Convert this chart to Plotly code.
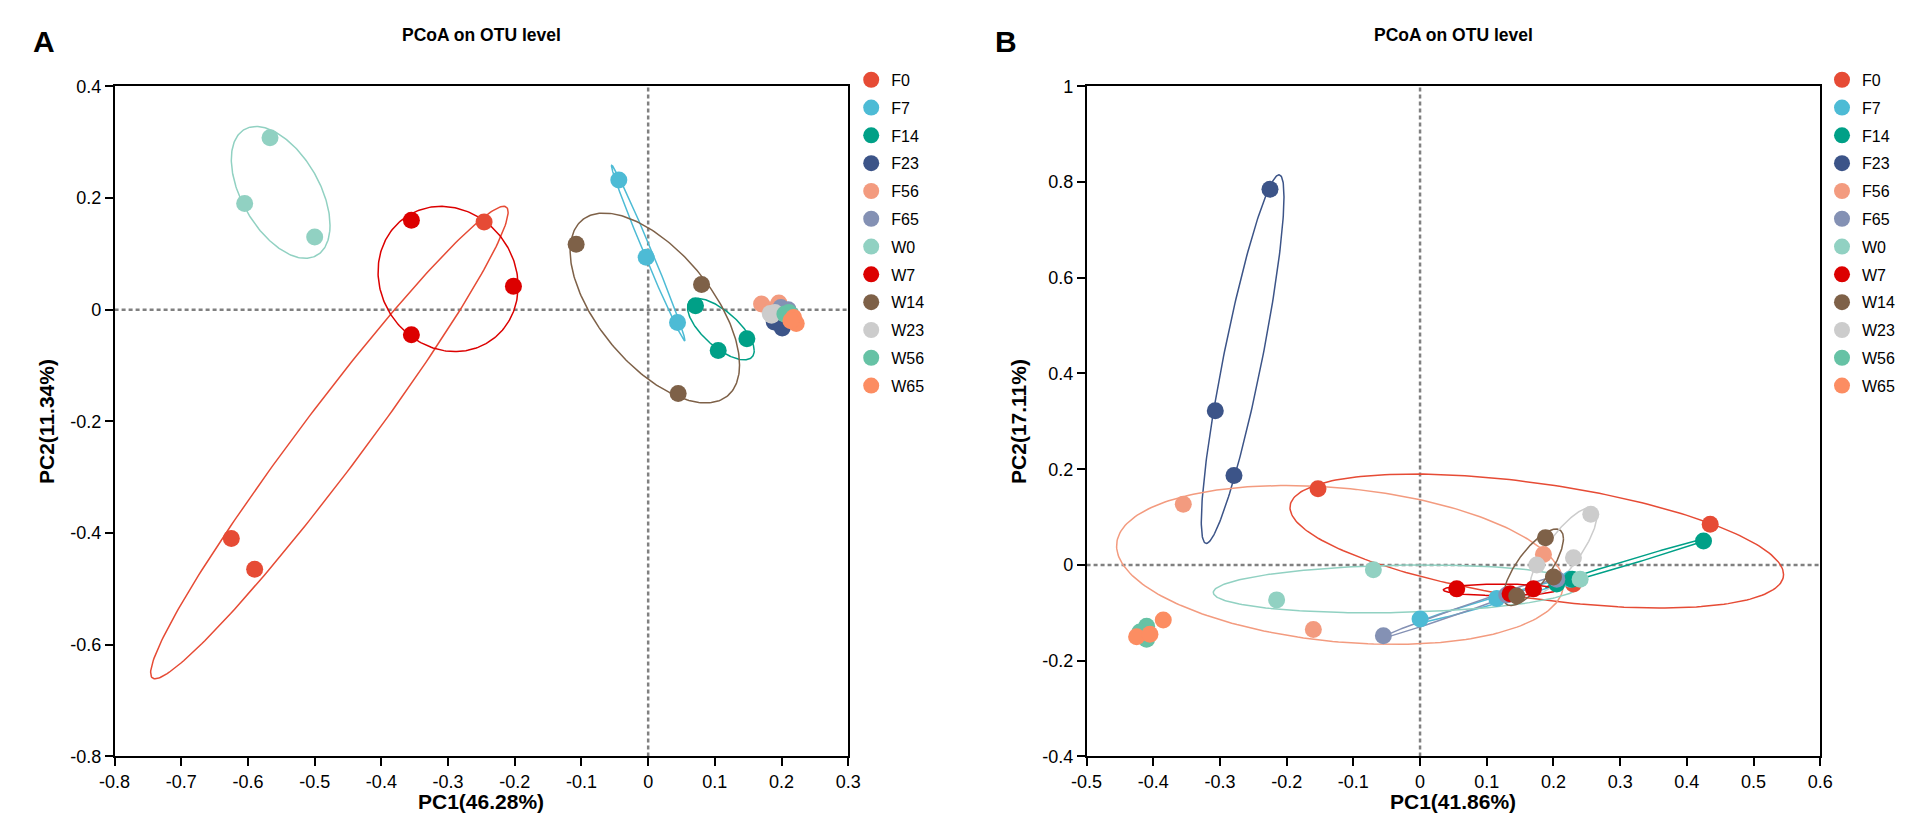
import numpy as np
import plotly.graph_objects as go

# groups and colours
groups = ["F0", "F7", "F14", "F23", "F56", "F65", "W0", "W7", "W14", "W23", "W56", "W65"]
colors = ["#e64b35", "#4dbbd5", "#00a087", "#3c5488", "#f39b7f", "#8491b4",
          "#91d1c2", "#dc0000", "#7e6148", "#cccccc", "#66c2a5", "#fc8d62"]

# panel A: PCoA coordinates (3 samples per group)
a_pc1 = {
    "F0": [-0.246, -0.625, -0.59], "F7": [-0.044, -0.003, 0.044], "F14": [0.071, 0.105, 0.148],
    "F23": [0.189, 0.201, 0.195], "F56": [0.170, 0.196, 0.185], "F65": [0.199, 0.205, 0.21],
    "W0": [-0.567, -0.605, -0.50], "W7": [-0.355, -0.202, -0.355], "W14": [-0.108, 0.08, 0.045],
    "W23": [0.183, 0.19, 0.185], "W56": [0.211, 0.205, 0.215], "W65": [0.218, 0.222, 0.214],
}
a_pc2 = {
    "F0": [0.157, -0.41, -0.465], "F7": [0.232, 0.094, -0.023], "F14": [0.007, -0.073, -0.052],
    "F23": [-0.022, -0.033, -0.015], "F56": [0.010, 0.012, 0.0], "F65": [0.004, -0.002, 0.0],
    "W0": [0.308, 0.19, 0.13], "W7": [0.16, 0.042, -0.045], "W14": [0.117, 0.045, -0.15],
    "W23": [-0.007, -0.005, -0.01], "W56": [-0.005, -0.008, -0.01], "W65": [-0.014, -0.025, -0.02],
}
# panel A confidence ellipses: centre, half extent in x / y, tilt (correlation)
a_ell = {
    "F0": (-0.478, -0.238, 0.268, 0.423, 0.975),
    "F7": (0.0, 0.1015, 0.055, 0.157, -0.993),
    "F14": (0.109, -0.035, 0.05, 0.055, -0.7),
    "W0": (-0.551, 0.21, 0.074, 0.118, -0.5),
    "W7": (-0.30, 0.055, 0.105, 0.13, -0.1),
    "W14": (0.01, 0.003, 0.127, 0.17, -0.6),
}

# panel B
b_pc1 = {
    "F0": [-0.153, 0.435, 0.23], "F7": [0.0, 0.115, 0.225], "F14": [0.425, 0.228, 0.205],
    "F23": [-0.225, -0.307, -0.279], "F56": [-0.355, -0.16, 0.185], "F65": [-0.055, 0.13, 0.205],
    "W0": [-0.07, -0.215, 0.24], "W7": [0.055, 0.17, 0.135], "W14": [0.188, 0.145, 0.2],
    "W23": [0.256, 0.23, 0.175], "W56": [-0.41, -0.41, -0.42], "W65": [-0.425, -0.405, -0.385],
}
b_pc2 = {
    "F0": [0.159, 0.085, -0.04], "F7": [-0.113, -0.07, -0.03], "F14": [0.05, -0.03, -0.04],
    "F23": [0.785, 0.322, 0.187], "F56": [0.127, -0.135, 0.022], "F65": [-0.148, -0.063, -0.03],
    "W0": [-0.01, -0.073, -0.03], "W7": [-0.05, -0.05, -0.06], "W14": [0.057, -0.065, -0.025],
    "W23": [0.106, 0.015, 0.0], "W56": [-0.155, -0.128, -0.14], "W65": [-0.15, -0.145, -0.115],
}
b_ell = {
    "F0": (0.175, 0.05, 0.37, 0.14, -0.5),
    "F7": (0.118, -0.072, 0.124, 0.05, 0.99),
    "F14": (0.312, 0.005, 0.124, 0.052, 0.995),
    "F23": (-0.266, 0.43, 0.062, 0.385, 0.88),
    "F56": (-0.12, 0.0, 0.335, 0.166, -0.24),
    "F65": (0.074, -0.088, 0.135, 0.066, 0.995),
    "W0": (-0.035, -0.05, 0.275, 0.05, 0.15),
    "W7": (0.12, -0.052, 0.085, 0.012, 0.0),
    "W14": (0.17, -0.005, 0.045, 0.08, 0.75),
    "W23": (0.215, 0.03, 0.05, 0.09, 0.8),
}

a_xticks = [-0.8, -0.7, -0.6, -0.5, -0.4, -0.3, -0.2, -0.1, 0, 0.1, 0.2, 0.3]
a_yticks = [-0.8, -0.6, -0.4, -0.2, 0, 0.2, 0.4]
b_xticks = [-0.5, -0.4, -0.3, -0.2, -0.1, 0, 0.1, 0.2, 0.3, 0.4, 0.5, 0.6]
b_yticks = [-0.4, -0.2, 0, 0.2, 0.4, 0.6, 0.8, 1]
a_xlabel = "PC1(46.28%)"
a_ylabel = "PC2(11.34%)"
b_xlabel = "PC1(41.86%)"
b_ylabel = "PC2(17.11%)"
title = "PCoA on OTU level"

FONT = "Liberation Sans, Arial, sans-serif"
W, H = 1905, 814


def lab(v):
    return "0" if v == 0 else ("%g" % v)


def ellipse(cx, cy, hx, hy, r):
    t = np.linspace(0, 2 * np.pi, 240)
    s = np.sqrt(1 - r * r)
    return cx + hx * np.cos(t), cy + hy * (r * np.cos(t) + s * np.sin(t))


fig = go.Figure()

for pc1, pc2, ell, ax, leg in [(a_pc1, a_pc2, a_ell, "", "legend"),
                                (b_pc1, b_pc2, b_ell, "2", "legend2")]:
    for g, c in zip(groups, colors):
        if g in ell:
            ex, ey = ellipse(*ell[g])
            fig.add_trace(go.Scatter(x=ex, y=ey, mode="lines", line=dict(color=c, width=1.5),
                                     xaxis="x" + ax, yaxis="y" + ax, showlegend=False,
                                     legendgroup=g, hoverinfo="skip"))
    for g, c in zip(groups, colors):
        fig.add_trace(go.Scatter(x=pc1[g], y=pc2[g], mode="markers", name=g,
                                 marker=dict(color=c, size=17, line=dict(width=0)),
                                 xaxis="x" + ax, yaxis="y" + ax, legend=leg, legendgroup=g))

px0a, px1a = 92, 837
px0b, px1b = 1079, 1824
ytop, ybot = 70, 757

axis_style = dict(showline=True, linecolor="black", linewidth=1.5, mirror=True,
                  ticks="outside", ticklen=8, tickwidth=1.5, tickcolor="black",
                  showgrid=False, zeroline=False,
                  tickfont=dict(family=FONT, size=18, color="black"))

legend_style = dict(y=1 - 46 / H, yanchor="top", font=dict(family=FONT, size=16),
                    tracegroupgap=4, itemwidth=30, bgcolor="rgba(0,0,0,0)")

fig.update_layout(
    width=W, height=H, autosize=False,
    margin=dict(l=0, r=0, t=0, b=0),
    paper_bgcolor="white", plot_bgcolor="white",
    font=dict(family=FONT, color="black"),
    xaxis=dict(domain=[px0a / W, px1a / W], range=[-0.8, 0.3], tickvals=a_xticks,
               ticktext=[lab(v) for v in a_xticks], anchor="y", **axis_style),
    yaxis=dict(domain=[1 - ybot / H, 1 - ytop / H], range=[-0.8, 0.4], tickvals=a_yticks,
               ticktext=[lab(v) for v in a_yticks], anchor="x", **axis_style),
    xaxis2=dict(domain=[px0b / W, px1b / W], range=[-0.5, 0.6], tickvals=b_xticks,
                ticktext=[lab(v) for v in b_xticks], anchor="y2", **axis_style),
    yaxis2=dict(domain=[1 - ybot / H, 1 - ytop / H], range=[-0.4, 1], tickvals=b_yticks,
                ticktext=[lab(v) for v in b_yticks], anchor="x2", **axis_style),
    legend=dict(x=840 / W, xanchor="left", **legend_style),
    legend2=dict(x=1.0, xanchor="right", **legend_style),
    showlegend=True,
)

# dashed zero lines
for ax in ["", "2"]:
    fig.add_shape(type="line", xref="x" + ax + " domain", yref="y" + ax, x0=0, x1=1, y0=0, y1=0,
                  line=dict(color="#808080", width=2.5, dash="4px,3px"), layer="below")
    fig.add_shape(type="line", xref="x" + ax, yref="y" + ax + " domain", x0=0, x1=0, y0=0, y1=1,
                  line=dict(color="#808080", width=2.5, dash="4px,3px"), layer="below")


def note(px, py, text, size, angle=0):
    return dict(x=px / W, y=1 - py / H, text=text, showarrow=False, textangle=angle,
                xref="paper", yref="paper", xanchor="center", yanchor="middle",
                font=dict(size=size, family=FONT, color="black"))


ann = []
for cx, letter, lx, xl, yl, ylx in [((px0a + px1a) / 2, "A", 20, a_xlabel, a_ylabel, 23),
                                    ((px0b + px1b) / 2, "B", 997, b_xlabel, b_ylabel, 1010)]:
    ann.append(note(cx, 17, "<b>%s</b>" % title, 17.5))
    ann.append(note(lx, 24, "<b>%s</b>" % letter, 30))
    ann.append(note(cx, 803, "<b>%s</b>" % xl, 21))
    ann.append(note(ylx, (ytop + ybot) / 2, "<b>%s</b>" % yl, 21, -90))
fig.update_layout(annotations=ann)

fig.write_html("out.html")
